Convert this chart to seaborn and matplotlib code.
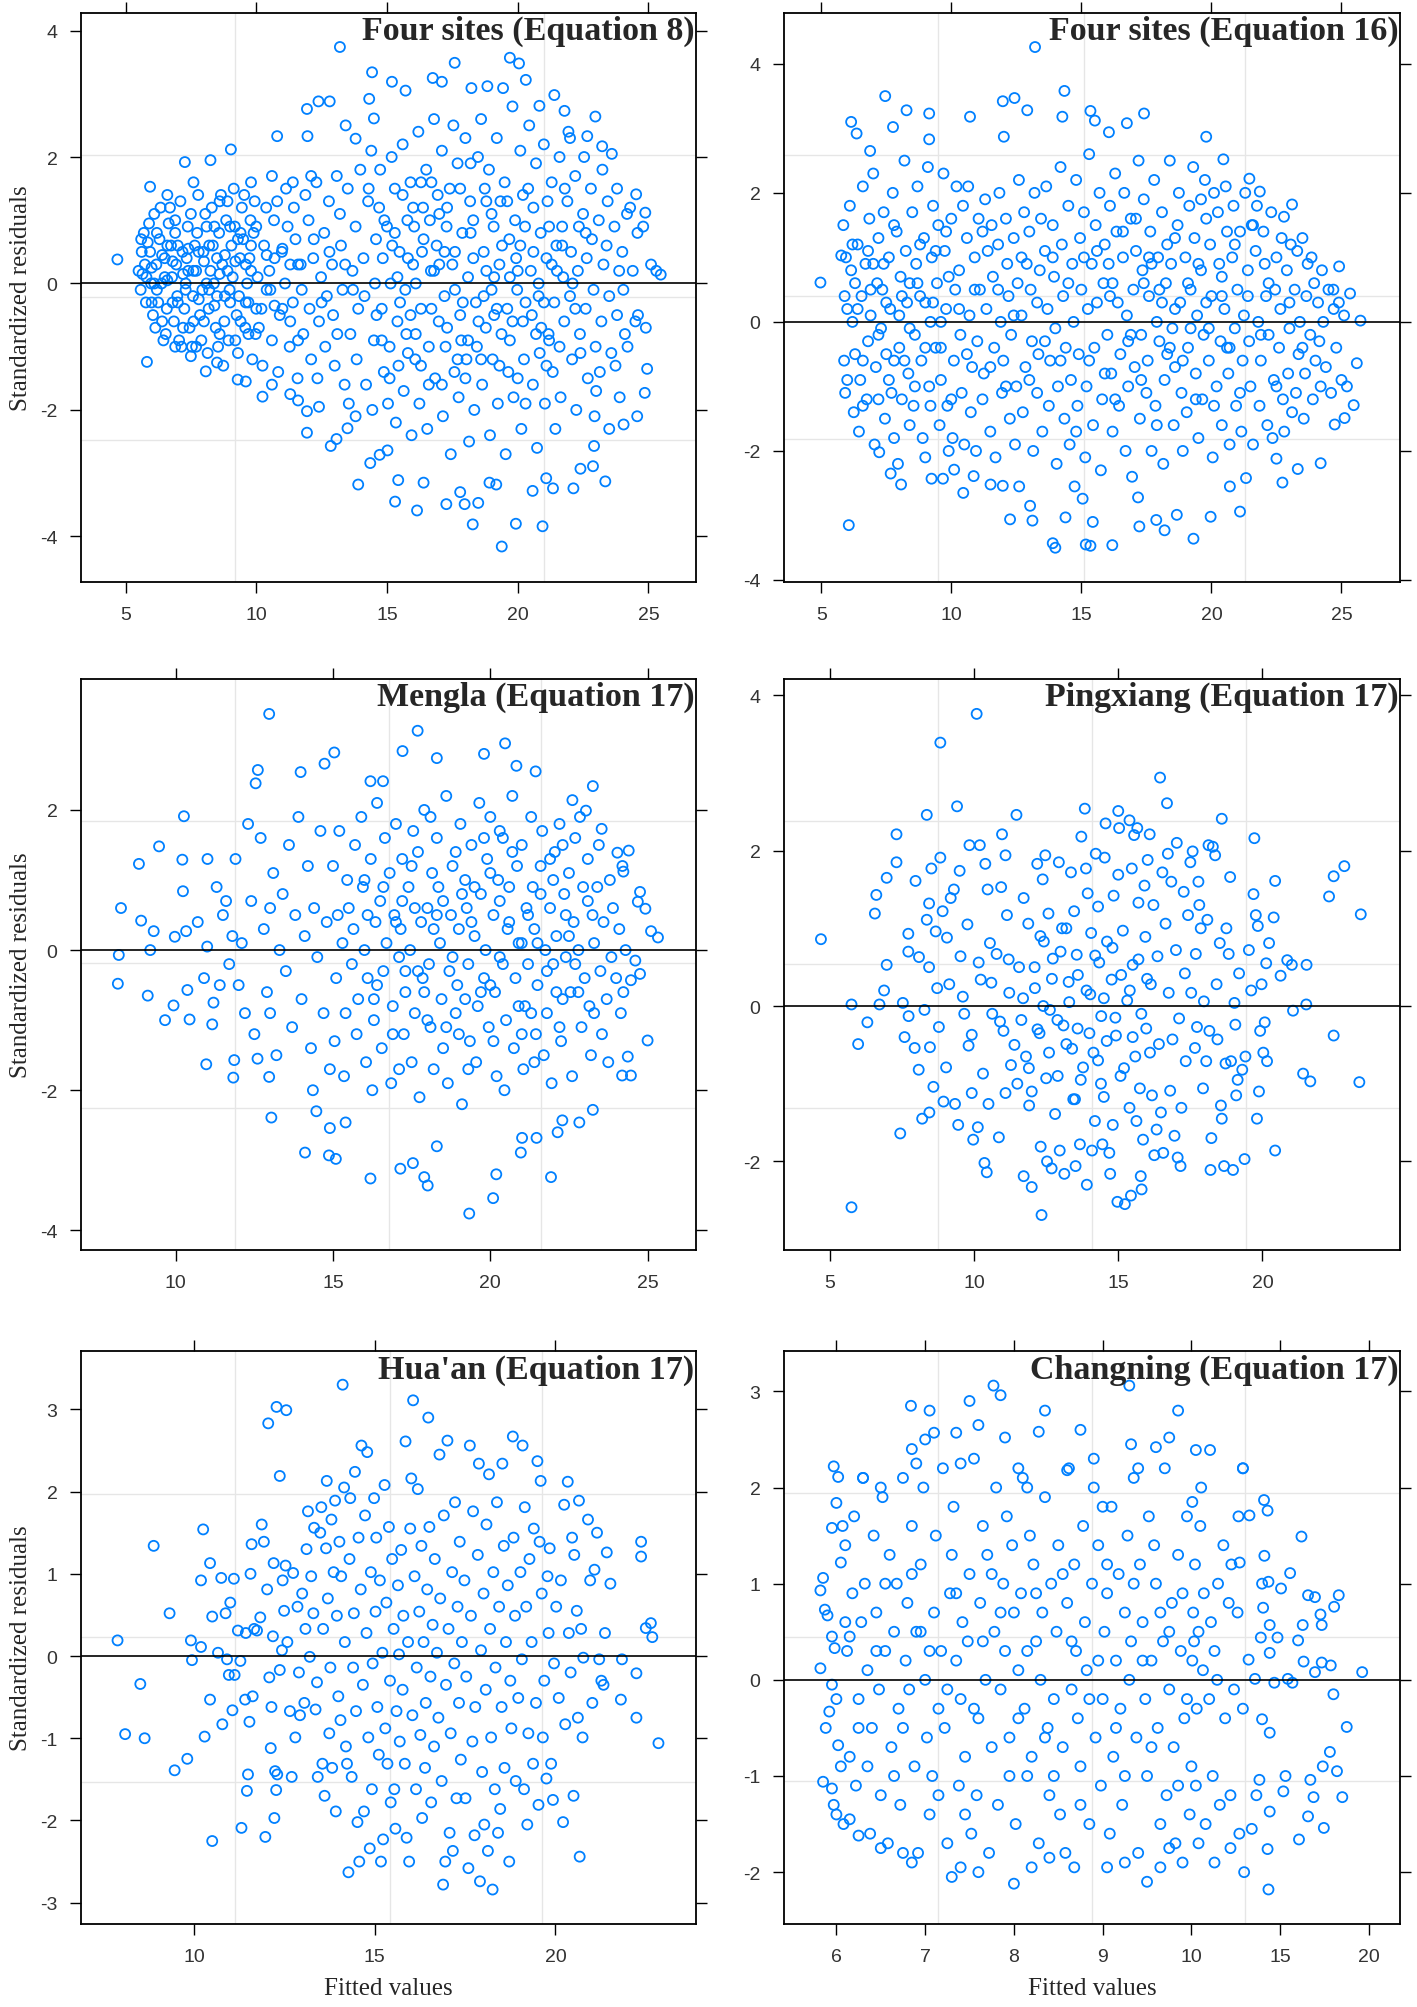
import numpy as np
import pandas as pd
import matplotlib
matplotlib.use("Agg")
import matplotlib.pyplot as plt
import seaborn as sns

sns.set_style("white")
plt.rcParams["font.family"] = ["Liberation Sans", "DejaVu Sans"]
plt.rcParams["axes.unicode_minus"] = False

# ---------------- data: (fitted value, standardized residual) ----------------
four_sites_eq8 = [
    (4.69, 0.38), (25.47, 0.14), (5.82, -1.24), (13.2, 3.74), (19.7, 3.57), (20.05, 3.48), (17.59, 3.49),
    (14.43, 3.34), (19.39, -4.16), (19.93, -3.8), (20.95, -3.84), (18.28, -3.81), (16.15, -3.59), (15.31, -3.45),
    (23.35, -3.13), (13.9, -3.18), (11.94, 2.76), (12.38, 2.88), (12.81, 2.88), (10.8, 2.33), (11.96, 2.33),
    (9.03, 2.12), (7.27, 1.92), (8.25, 1.95), (5.94, 1.53), (21.4, 2.98), (22.97, 2.64), (24.53, 1.41),
    (24.88, 1.12), (24.57, -2.1), (24.05, -2.23), (24.86, -1.73), (24.95, -1.35), (11.94, -2.36), (11.94, -2.02),
    (12.85, -2.57), (13.07, -2.46), (13.49, -2.29), (14.36, -2.84), (14.72, -2.71), (15.02, -2.64), (15.43, -3.11),
    (16.4, -3.15), (17.27, -3.49), (17.8, -3.3), (17.97, -3.49), (18.49, -3.47), (18.92, -3.15), (19.18, -3.18),
    (20.57, -3.28), (21.09, -3.08), (21.35, -3.24), (22.13, -3.24), (22.4, -2.93), (22.88, -2.89), (22.92, -2.57),
    (10.24, -1.79), (9.29, -1.52), (8.07, -1.39), (15.19, 3.19), (15.71, 3.05), (16.75, 3.25), (17.1, 3.19),
    (18.23, 3.09), (18.84, 3.12), (19.44, 3.09), (20.31, 3.22), (20.83, 2.81), (21.79, 2.73), (22.66, 2.33),
    (23.23, 2.17), (14.32, 2.92), (14.5, 2.61), (13.42, 2.5), (13.8, 2.29),
    (6.6, 1.4), (7.6, 1.6), (8.6, 1.3), (9.8, 1.6), (10.6, 1.7), (11.4, 1.6), (12.1, 1.7), (6.9, -1.0),
    (7.5, -1.15), (8.5, -1.25), (9.6, -1.55), (10.6, -1.6), (11.3, -1.75), (11.6, -1.85), (12.4, -1.95),
    (13.8, -2.1), (23.9, -1.8), (23.5, -2.3), (23.0, -1.7), (24.2, -1.0), (24.6, -0.5), (24.8, 0.9),
    (24.3, 1.2), (23.8, 1.5), (23.6, 2.05), (22.0, 2.3), (24.9, -0.7), (25.1, 0.3), (25.3, 0.2),
    (5.5, 0.2), (5.58, -0.1), (5.62, 0.5), (5.7, 0.8), (5.78, -0.3), (5.74, 0.3),
    (5.9, 0.95), (5.98, 0.0), (6.05, -0.5), (5.94, 0.5), (6.1, 1.1), (6.18, 0.3), (6.25, -0.3), (6.14, -0.7),
    (6.3, 0.7), (6.38, 0.0), (6.45, -0.9), (6.34, 1.2), (6.5, 0.4), (6.58, -0.4), (6.65, 0.95), (6.54, -0.8),
    (6.7, 1.2), (6.78, 0.1), (6.85, -0.6), (6.74, 0.6), (6.9, 0.8), (6.98, -0.2), (7.05, -0.9), (6.94, 0.3),
    (7.1, 1.3), (7.18, 0.5), (7.25, -0.4), (7.14, -1.0), (7.3, 0.0), (7.38, 0.9), (7.45, -0.7), (7.34, 0.4),
    (7.5, 1.1), (7.58, -0.2), (7.65, 0.6), (7.54, -1.0), (7.7, 0.2), (7.78, 1.4), (7.85, -0.5), (7.74, 0.8),
    (7.9, -0.9), (7.98, 0.5), (8.05, 1.1), (7.94, -0.1), (8.1, 0.9), (8.18, -0.4), (8.25, 0.2), (8.14, -1.1),
    (8.3, 1.2), (8.38, 0.0), (8.45, -0.7), (8.34, 0.6), (8.5, -0.2), (8.58, 0.8), (8.65, 1.4), (8.54, -1.0),
    (8.7, 0.3), (8.78, -0.6), (8.85, 1.0), (8.74, -1.3), (8.9, 1.3), (8.98, -0.1), (9.05, 0.6), (8.94, -0.9),
    (9.1, 0.1), (9.18, 0.9), (9.25, -0.5), (9.14, 1.5), (9.3, -1.1), (9.38, 0.4), (9.45, 1.2), (9.34, -0.2),
    (9.5, 0.7), (9.58, -0.7), (9.65, 0.0), (9.54, 1.4), (9.7, -0.3), (9.78, 1.0), (9.85, -1.2), (9.74, 0.4),
    (9.9, 0.8), (9.98, -0.8), (10.05, 0.1), (9.94, 1.3), (10.2, -0.4), (10.3, 0.6), (10.38, 1.2), (10.24, -1.3),
    (10.5, 0.2), (10.6, -0.9), (10.68, 1.0), (10.54, -0.1), (10.8, 1.3), (10.9, -0.5), (10.98, 0.5), (10.84, -1.4),
    (11.1, 0.0), (11.2, 0.9), (11.28, -1.0), (11.14, 1.5), (11.4, -0.3), (11.5, 0.7), (11.58, -1.5), (11.44, 1.2),
    (11.7, 0.3), (11.8, -0.8), (11.88, 1.4), (11.74, -0.1), (12.0, 1.0), (12.1, -1.2), (12.18, 0.4), (12.04, -0.4),
    (12.3, 1.6), (12.4, -0.6), (12.48, 0.1), (12.34, -1.5), (12.6, 0.8), (12.7, -0.2), (12.78, 1.3), (12.64, -1.0),
    (12.9, 0.3), (13.0, -1.3), (13.08, 1.7), (12.94, -0.5), (13.2, 1.1), (13.3, -0.1), (13.38, -1.6), (13.24, 0.6),
    (13.5, 1.5), (13.6, -0.8), (13.68, 0.2), (13.54, -1.9), (13.8, 0.9), (13.9, -0.4), (13.98, 1.8), (13.84, -1.2),
    (14.1, 0.4), (14.2, -1.6), (14.28, 1.3), (14.14, -0.2), (14.4, 2.1), (14.5, -0.9), (14.58, 0.7), (14.44, -2.0),
    (14.54, 0.0), (14.7, 1.2), (14.8, -0.4), (14.88, -1.4), (14.74, 1.8), (14.84, 0.4), (15.0, 0.9), (15.1, -1.0),
    (15.18, 2.0), (15.04, -1.9), (15.14, 0.0), (15.3, 1.5), (15.4, -0.6), (15.48, 0.5), (15.34, -2.2), (15.44, -1.3),
    (15.6, 2.2), (15.7, -0.1), (15.78, 1.0), (15.64, -1.7), (15.74, -0.8), (15.9, 1.6), (16.0, 0.3), (16.08, -1.2),
    (15.94, -2.4), (16.04, 0.9), (16.2, 2.4), (16.3, -0.4), (16.38, 1.2), (16.24, -1.9), (16.34, 0.5), (16.5, 1.8),
    (16.6, -1.0), (16.68, 0.2), (16.54, -2.3), (16.64, 1.0), (16.8, 2.6), (16.9, 0.6), (16.98, -0.6), (16.84, -1.5),
    (16.94, 1.4), (17.1, 2.1), (17.2, -0.2), (17.28, 0.9), (17.14, -2.1), (17.24, -1.0), (17.4, 1.5), (17.5, 0.3),
    (17.58, -1.4), (17.44, -2.7), (17.54, 2.5), (17.7, 1.9), (17.8, -0.5), (17.88, 0.8), (17.74, -1.8), (17.84, -0.9),
    (18.0, 2.3), (18.1, 0.1), (18.18, 1.3), (18.04, -1.2), (18.14, -2.5), (18.3, 1.0), (18.4, -0.3), (18.48, 2.0),
    (18.34, -2.0), (18.44, -1.0), (18.6, 2.6), (18.7, 0.5), (18.78, -0.7), (18.64, -1.6), (18.74, 1.5), (18.9, 1.8),
    (19.0, -0.1), (19.08, 0.9), (18.94, -2.4), (19.04, -1.2), (19.2, 2.3), (19.3, 0.3), (19.38, -0.8), (19.24, -1.9),
    (19.34, 1.3), (19.5, 1.6), (19.6, -0.4), (19.68, 0.7), (19.54, -2.7), (19.64, -1.4), (19.8, 2.8), (19.9, 1.0),
    (19.98, -0.1), (19.84, -1.8), (19.94, 0.4), (20.1, 2.1), (20.2, -0.6), (20.28, 0.9), (20.14, -2.3), (20.24, -1.2),
    (20.4, 1.5), (20.5, 0.2), (20.58, -1.6), (20.44, 2.5), (20.54, -0.5), (20.7, 1.9), (20.8, -0.2), (20.88, 0.8),
    (20.74, -2.6), (20.84, -1.1), (21.0, 2.2), (21.1, 0.4), (21.18, -0.8), (21.04, -1.9), (21.14, 1.3), (21.3, 1.6),
    (21.4, -0.3), (21.48, 0.6), (21.34, -1.4), (21.44, -2.3), (21.6, 2.0), (21.7, 0.9), (21.78, -0.6), (21.64, -1.8),
    (21.74, 0.1), (21.9, 1.3), (22.0, -0.2), (22.08, -1.2), (21.94, 2.4), (22.04, 0.5), (22.2, 1.7), (22.3, 0.2),
    (22.38, -0.8), (22.24, -2.0), (22.34, 0.9), (22.5, 1.1), (22.6, -0.4), (22.68, -1.5), (22.54, 2.0), (22.64, 0.4),
    (22.8, 1.5), (22.9, -0.1), (22.98, -1.0), (22.84, 0.7), (22.94, -2.1), (23.1, 1.0), (23.2, -0.6), (23.28, 0.3),
    (23.14, -1.4), (23.24, 1.8), (23.4, 0.6), (23.5, -0.2), (23.58, -1.1), (23.44, 1.3), (23.7, 0.9), (23.8, -0.5),
    (23.88, 0.2), (23.74, -1.3), (24.0, 0.5), (24.1, -0.8), (24.18, 1.1), (24.04, -0.1), (24.4, 0.2), (24.5, -0.6),
    (24.58, 0.8),
    (5.65, 0.15), (5.85, 0.65), (6.0, 0.25), (6.2, -0.1), (6.4, 0.45), (6.6, 0.05), (6.8, 0.35), (7.0, -0.3),
    (7.2, 0.15), (7.4, 0.55), (7.6, 0.2), (7.8, -0.25), (8.0, 0.35), (8.2, 0.6), (8.4, -0.35), (8.6, 0.15),
    (8.8, 0.45), (9.0, -0.3), (9.2, 0.35), (9.4, -0.6), (9.6, 0.3), (9.8, 0.6), (10.0, -0.4), (10.4, 0.45),
    (10.7, -0.35), (11.0, 0.55), (11.3, -0.6), (11.6, 0.3), (15.2, 0.6), (15.5, -0.3), (15.8, 0.4), (16.1, -0.8),
    (16.4, 0.7), (16.7, -0.4), (17.0, 0.3), (17.3, -0.7), (17.6, 0.5), (17.9, -0.3), (18.2, 0.8), (18.5, -0.6),
    (18.8, 0.2), (19.1, -0.5), (19.4, 0.6), (19.7, -0.9), (20.0, 0.2), (20.3, -0.3), (20.6, 0.5), (20.9, -0.7),
    (21.2, 0.9), (21.5, 0.2), (16.0, 1.2), (17.0, 1.1), (18.0, -1.5), (19.0, 1.1), (20.0, -1.5), (21.0, -0.3),
    (5.6, 0.7), (5.8, 0.1), (6.0, -0.3), (6.2, 0.8), (6.4, -0.6), (6.6, 0.6), (6.8, -0.3), (7.0, 0.6),
    (7.2, -0.7), (7.4, 0.2), (7.6, -0.6), (7.8, 0.5), (8.0, -0.6), (8.2, -0.1), (8.4, 0.9), (8.6, -0.8),
    (8.8, -0.2), (9.0, 0.9), (9.2, -0.9), (9.4, 0.8), (9.6, -0.3), (9.8, 0.2), (10.0, 0.9), (6.1, 0.0),
    (6.5, 0.1), (6.9, 1.0), (7.3, -0.1), (7.7, -1.0), (8.1, 0.0), (8.5, 0.4), (8.9, 0.2), (9.3, 0.7),
    (9.7, -0.8), (10.1, -0.7), (10.4, -0.1), (10.7, 0.4), (11.0, -0.4), (11.3, 0.3), (11.6, -0.9), (12.2, 0.7),
    (12.5, -0.3), (12.8, 0.5), (13.1, -0.8), (13.4, 0.3), (13.7, -0.1),
    (14.3, 1.5), (14.6, -0.5), (14.9, 1.0), (15.1, -1.5), (15.4, 0.1), (15.6, 1.4), (15.9, -0.5), (16.1, 0.0),
    (16.3, 1.6), (16.6, -1.6), (16.8, 0.2), (17.1, -1.6), (17.3, 1.2), (17.6, -0.1), (17.8, 1.5), (18.1, -0.9),
    (18.3, 0.4), (18.6, -1.2), (18.8, 1.3), (19.1, 0.1), (19.3, -1.3), (19.6, 1.3), (19.8, -0.6), (20.1, 0.6),
    (20.3, -1.9), (20.6, 1.2), (20.8, 0.0), (21.1, -1.3), (21.3, 0.3), (21.6, -1.0), (21.8, 1.5), (22.1, 0.0),
    (22.4, -1.1), (22.6, 0.8), (14.8, -0.9), (15.3, 0.8), (15.8, -1.1), (16.3, -1.3), (16.7, 1.6), (17.2, 0.5),
    (17.7, -1.2), (18.2, 1.9), (18.7, -0.2), (19.2, -0.4), (19.7, 0.1), (20.2, 1.4), (20.7, -0.8), (21.2, -0.9),
    (21.7, 0.6), (22.2, -0.4),
]

four_sites_eq16 = [
    (4.97, 0.61), (6.06, -3.15), (13.22, 4.26), (7.46, 3.5), (8.28, 3.28), (9.15, 3.23), (6.15, 3.1),
    (7.76, 3.02), (10.72, 3.18), (11.98, 3.42), (12.43, 3.47), (12.92, 3.28), (14.35, 3.58), (14.27, 3.18),
    (15.35, 3.27), (15.52, 3.12), (16.75, 3.08), (17.41, 3.23), (12.02, 2.87), (9.15, 2.83), (6.36, 2.92),
    (6.88, 2.65), (16.06, 2.94), (19.8, 2.87), (20.46, 2.52), (23.1, 1.82), (22.79, 1.63), (21.86, 2.02),
    (21.46, 2.22), (24.91, 0.86), (24.69, 0.5), (25.33, 0.44), (25.73, 0.02), (25.59, -0.64), (25.21, -1.0),
    (25.47, -1.29), (25.12, -1.49), (24.74, -1.59), (24.2, -2.19), (23.32, -2.28), (22.73, -2.49), (22.5, -2.12),
    (21.33, -2.42), (21.1, -2.94), (20.71, -2.55), (19.97, -3.02), (19.31, -3.36), (18.67, -2.99), (18.2, -3.23),
    (17.88, -3.07), (17.23, -3.17), (17.18, -2.72), (16.19, -3.46), (15.35, -3.47), (15.17, -3.45), (15.44, -3.1),
    (15.05, -2.74), (14.74, -2.55), (14.39, -3.03), (14.0, -3.5), (13.9, -3.43), (13.12, -3.08), (13.03, -2.85),
    (12.26, -3.06), (12.61, -2.55), (11.98, -2.54), (11.51, -2.52), (10.46, -2.65), (9.68, -2.43), (9.24, -2.43),
    (8.07, -2.52), (7.67, -2.35), (7.23, -2.02), (10.11, -2.29), (10.86, -2.39), (5.77, 1.03),
    (5.85, 1.5), (5.9, 0.4), (5.88, -0.6), (5.95, 1.0), (5.92, -1.1),
    (6.1, 1.8), (6.2, 0.0), (6.25, -1.4), (6.15, 0.8), (6.3, -0.5),
    (6.4, 1.2), (6.5, -0.9), (6.55, 0.4), (6.45, -1.7), (6.6, 2.1),
    (6.7, 0.9), (6.8, -0.3), (6.85, 1.6), (6.75, -1.2), (6.9, 0.1),
    (7.0, 2.3), (7.1, -0.7), (7.15, 0.6), (7.05, -1.9), (7.2, 1.3),
    (7.3, -0.1), (7.4, 1.7), (7.45, -1.5), (7.35, 0.5), (7.5, -0.5),
    (7.6, 1.0), (7.7, -1.1), (7.75, 2.0), (7.65, 0.2), (7.8, -1.8),
    (7.9, 1.4), (8.0, -0.4), (8.05, 0.7), (7.95, -2.2), (8.1, -1.2),
    (8.2, 2.5), (8.3, 0.3), (8.35, -0.8), (8.25, 1.1), (8.4, -1.6),
    (8.5, 1.7), (8.6, -0.2), (8.65, 0.9), (8.55, -1.3), (8.7, 2.1),
    (8.8, 0.4), (8.9, -1.8), (8.95, 1.3), (8.85, -0.6), (9.0, -2.1),
    (9.1, 2.4), (9.2, 0.0), (9.25, 1.0), (9.15, -1.0), (9.3, 1.8),
    (9.4, -0.4), (9.5, 1.5), (9.55, -1.6), (9.45, 0.6), (9.6, -0.9),
    (9.7, 2.3), (9.8, 0.2), (9.85, -1.3), (9.75, 1.1), (9.9, -2.0),
    (10.0, 1.6), (10.1, -0.6), (10.15, 0.5), (10.05, -1.8), (10.2, 2.1),
    (10.3, 0.8), (10.4, -1.1), (10.45, 1.8), (10.35, -0.2), (10.5, -1.9),
    (10.6, 1.3), (10.7, 0.1), (10.75, -1.4), (10.65, 2.1), (10.8, -0.7),
    (10.9, 1.0), (11.0, -0.3), (11.05, 1.6), (10.95, -2.0), (11.1, 0.5),
    (11.2, -1.2), (11.3, 1.9), (11.35, 0.2), (11.25, -0.8), (11.4, 1.1),
    (11.5, -1.7), (11.6, 0.7), (11.65, -0.4), (11.55, 1.5), (11.7, -2.1),
    (11.8, 1.2), (11.9, 0.0), (11.95, -1.1), (11.85, 2.0), (12.0, -0.6),
    (12.1, 1.6), (12.2, 0.4), (12.25, -1.5), (12.15, 0.9), (12.3, -0.2),
    (12.4, 1.3), (12.5, -1.0), (12.55, 0.6), (12.45, -1.9), (12.6, 2.2),
    (12.7, 0.1), (12.8, 1.7), (12.85, -0.7), (12.75, -1.4), (12.9, 0.9),
    (13.0, 1.4), (13.1, -0.3), (13.15, -2.0), (13.05, 0.5), (13.2, 2.0),
    (13.3, -1.1), (13.4, 0.8), (13.45, 1.6), (13.35, -0.5), (13.5, -1.7),
    (13.6, 1.1), (13.7, 0.2), (13.75, -1.3), (13.65, 2.1), (13.8, -0.6),
    (13.9, 1.5), (14.0, -0.1), (14.05, -2.2), (13.95, 0.7), (14.1, -1.0),
    (14.2, 2.4), (14.3, 0.4), (14.35, -1.5), (14.25, 1.2), (14.4, -0.4),
    (14.5, 1.8), (14.6, -0.9), (14.65, 0.9), (14.55, -1.9), (14.7, 0.0),
    (14.8, 2.2), (14.9, -0.5), (14.95, 1.3), (14.85, -1.3), (15.0, 0.5),
    (15.1, 1.7), (15.2, -1.0), (15.25, 0.2), (15.15, -2.1), (15.3, 2.6),
    (15.4, 0.9), (15.5, -0.4), (15.55, 1.5), (15.45, -1.6), (15.6, 0.3),
    (15.7, 2.0), (15.8, -1.2), (15.85, 0.6), (15.75, -2.3), (15.9, 1.2),
    (16.0, -0.2), (16.1, 1.8), (16.15, -0.8), (16.05, 0.9), (16.2, -1.7),
    (16.3, 2.3), (16.4, 0.3), (16.45, -1.3), (16.35, 1.4), (16.5, -0.5),
    (16.6, 1.0), (16.7, -2.0), (16.75, 0.1), (16.65, 2.0), (16.8, -1.0),
    (16.9, 1.6), (17.0, 0.5), (17.05, -0.7), (16.95, -2.4), (17.1, 1.1),
    (17.2, 2.5), (17.3, -0.2), (17.35, 0.8), (17.25, -1.5), (17.4, 1.9),
    (17.5, -1.1), (17.6, 0.4), (17.65, 1.4), (17.55, -0.6), (17.7, -2.0),
    (17.8, 2.2), (17.9, 0.0), (17.95, 1.0), (17.85, -1.3), (18.0, -0.3),
    (18.1, 1.7), (18.2, -0.9), (18.25, 0.6), (18.15, -2.2), (18.3, 1.2),
    (18.4, 2.5), (18.5, -0.1), (18.55, -1.6), (18.45, 0.9), (18.6, -0.7),
    (18.7, 1.5), (18.8, 0.3), (18.85, -1.1), (18.75, 2.0), (18.9, -2.0),
    (19.0, 1.0), (19.1, -0.4), (19.15, 1.8), (19.05, -1.4), (19.2, 0.5),
    (19.3, 2.4), (19.4, -0.8), (19.45, 0.1), (19.35, 1.3), (19.5, -1.8),
    (19.6, 0.8), (19.7, -0.2), (19.75, 2.2), (19.65, -1.2), (19.8, 1.6),
    (19.9, -0.6), (20.0, 0.4), (20.05, -2.1), (19.95, 1.2), (20.1, 2.0),
    (20.2, -1.0), (20.3, 0.9), (20.35, -0.3), (20.25, 1.7), (20.4, -1.6),
    (20.5, 0.2), (20.6, 1.4), (20.65, -0.8), (20.55, 2.1), (20.7, -1.9),
    (20.8, 1.0), (20.9, -0.1), (20.95, -1.3), (20.85, 1.8), (21.0, 0.5),
    (21.1, 1.4), (21.2, -0.6), (21.25, 0.1), (21.15, -1.7), (21.3, 2.0),
    (21.4, 0.8), (21.5, -1.0), (21.55, 1.5), (21.45, -0.3), (21.6, -1.9),
    (21.7, 1.1), (21.8, 0.0), (21.85, -1.3), (21.75, 1.8), (21.9, -0.6),
    (22.0, 1.4), (22.1, 0.4), (22.15, -1.6), (22.05, 0.9), (22.2, -0.2),
    (22.3, 1.7), (22.4, -0.9), (22.45, 0.5), (22.35, -1.8), (22.5, 1.0),
    (22.6, -0.4), (22.7, 1.3), (22.75, -1.2), (22.65, 0.2), (22.8, -1.7),
    (22.9, 0.8), (23.0, -0.1), (23.05, 1.2), (22.95, -0.8), (23.1, -1.4),
    (23.2, 0.5), (23.3, 1.1), (23.35, -0.5), (23.25, -1.1), (23.4, 0.0),
    (23.5, 1.3), (23.6, -0.8), (23.65, 0.4), (23.55, -1.5), (23.7, 0.9),
    (23.8, -0.2), (23.9, -1.2), (23.95, 0.6), (23.85, 1.0), (24.0, -0.6),
    (24.1, 0.3), (24.2, -1.0), (24.25, 0.8), (24.15, -0.3), (24.3, 0.0),
    (24.4, -0.7), (24.5, 0.5), (24.6, -1.1), (24.7, 0.2), (24.8, -0.4),
    (24.9, 0.3), (25.0, -0.9), (25.1, 0.1),
    (6.0, 0.2), (6.3, 0.6), (6.6, -0.6), (6.9, 0.5), (7.2, -0.2), (7.5, 0.3), (7.8, -0.6), (8.1, 0.4),
    (8.4, -0.1), (8.7, 0.6), (9.0, -0.4), (9.3, 0.3), (9.6, 0.0), (9.9, 0.7), (16.2, 0.6), (16.8, -0.3),
    (17.4, 0.6), (18.0, 0.5), (18.6, 0.2), (19.2, -0.1), (19.8, 0.3), (20.4, 0.7), (20.7, -0.4), (17.7, 0.9),
    (18.3, -0.5), (19.5, 0.9),
    (6.0, -0.9), (6.2, 1.2), (6.4, 0.2), (6.6, -1.3), (6.8, 1.1), (7.0, 0.9), (7.2, -1.2), (7.4, 0.9),
    (7.6, -0.9), (7.8, 1.5), (8.0, 0.1), (8.2, -0.6), (8.4, 0.6), (8.6, -1.0), (8.8, 1.2), (9.0, 0.3),
    (9.2, -1.3), (9.4, 1.1), (9.6, -0.4), (9.8, 1.4), (10.0, -1.2), (10.3, 0.2), (10.6, -0.5), (10.9, 0.5),
    (11.2, 1.4), (11.5, -0.7), (11.8, 0.5), (12.1, -1.0), (12.4, 0.1), (12.7, 1.0), (13.0, -0.9), (13.3, 0.3),
    (13.6, -0.3), (13.9, 1.0), (14.2, -0.6), (14.5, 0.6), (14.8, -1.7), (15.1, 1.0), (15.3, -0.6), (15.6, 1.1),
    (15.9, -0.8), (16.1, 0.4), (16.3, -1.2), (16.6, 1.4), (16.9, -0.2), (17.1, 1.6), (17.3, -0.9), (17.6, 1.0),
    (17.9, -1.6), (18.1, 0.3), (18.4, -0.4), (18.6, 1.3), (18.9, -0.6), (19.1, 0.6), (19.4, -1.2), (19.6, 1.9),
    (19.9, -0.1), (20.1, -1.3), (20.4, 0.4), (20.6, -0.4), (20.9, 1.2), (21.1, -1.1), (21.4, 0.4), (21.6, 1.5),
    (21.9, -0.2), (22.2, 0.6), (22.5, -1.0), (23.0, 0.3), (23.5, -0.4),
]

mengla_eq17 = [
    (12.97, 3.37), (17.69, 3.13), (20.47, 2.95), (19.8, 2.8), (17.21, 2.84), (15.04, 2.82), (18.3, 2.74),
    (20.83, 2.63), (21.44, 2.55), (14.73, 2.66), (12.61, 2.57), (12.54, 2.38), (13.97, 2.54), (23.26, 2.34),
    (16.19, 2.41), (16.59, 2.41), (10.26, 1.91), (9.47, 1.48), (8.83, 1.23), (8.26, 0.6), (8.9, 0.42),
    (9.3, 0.27), (8.19, -0.07), (9.19, 0.0), (8.16, -0.48), (9.11, -0.65), (9.66, -1.0), (9.93, -0.79),
    (9.97, 0.19), (10.21, 1.29), (10.23, 0.84), (10.33, 0.27), (10.37, -0.57), (10.44, -0.99), (10.97, -1.63),
    (11.01, 1.3), (11.16, -1.06), (11.83, -1.82), (11.86, -1.57), (12.97, -1.81), (13.04, -2.39), (14.36, -2.0),
    (14.11, -2.89), (14.87, -2.93), (15.09, -2.98), (14.47, -2.3), (14.9, -2.54), (15.4, -2.46), (16.19, -3.26),
    (17.14, -3.12), (17.54, -3.04), (17.9, -3.24), (18.01, -3.36), (18.3, -2.8), (19.33, -3.76), (20.09, -3.54),
    (20.19, -3.2), (20.97, -2.89), (21.93, -3.24), (21.01, -2.68), (21.47, -2.68), (22.14, -2.6), (22.29, -2.43),
    (22.83, -2.46), (23.26, -2.28), (24.19, -1.79), (24.47, -1.79), (25.0, -1.29), (24.37, -1.52), (25.33, 0.18),
    (25.11, 0.27), (24.93, 0.59), (24.76, 0.83), (24.69, 0.69), (24.4, 1.42), (24.04, 1.39), (24.61, -0.15),
    (24.76, -0.34), (24.47, -0.43), (24.23, -0.6), (24.23, 1.12), (23.54, 1.73), (23.04, 1.99), (22.61, 2.14),
    (11.3, 0.9), (11.5, 0.5), (11.7, -0.2), (11.9, 1.3), (12.1, 0.1), (12.2, -0.9), (12.4, 0.7), (12.5, -1.2),
    (12.7, 1.6), (12.8, 0.3), (12.9, -0.6), (13.1, 1.1), (13.2, -1.5), (13.3, 0.0), (13.4, 0.8), (13.5, -0.3),
    (13.6, 1.5), (13.7, -1.1), (13.8, 0.5), (13.9, 1.9), (14.0, -0.7), (14.1, 0.2), (14.2, 1.2), (14.3, -1.4),
    (14.4, 0.6), (14.5, -0.1), (14.6, 1.7), (14.7, -0.9), (14.8, 0.4), (14.9, -1.7), (10.7, 0.4), (10.9, -0.4),
    (11.0, 0.05), (11.4, -0.5), (11.6, 0.7), (12.0, -0.5), (11.2, -0.75), (12.3, 1.8), (12.6, -1.55), (13.0, -0.9),
    (13.0, 0.6), (11.8, 0.2),
    (15.0, 1.2), (15.1, -0.4), (15.15, 0.5), (15.05, -1.3), (15.2, 1.7),
    (15.3, 0.1), (15.4, -0.9), (15.45, 1.0), (15.35, -1.8), (15.5, 0.6),
    (15.6, -0.2), (15.7, 1.5), (15.75, -1.2), (15.65, 0.3), (15.8, -0.7),
    (15.9, 1.9), (16.0, 0.0), (16.05, -1.6), (15.95, 0.9), (16.1, -0.4),
    (16.2, 1.3), (16.3, -1.0), (16.35, 0.4), (16.25, -2.0), (16.4, 2.1),
    (16.5, 0.7), (16.6, -0.3), (16.65, 1.6), (16.55, -1.4), (16.7, 0.1),
    (16.8, 1.1), (16.9, -0.8), (16.95, 0.5), (16.85, -1.9), (17.0, 1.8),
    (17.1, -0.1), (17.2, 1.3), (17.25, -1.2), (17.15, 0.3), (17.3, -0.6),
    (17.4, 0.9), (17.5, -1.6), (17.55, 1.7), (17.45, 0.0), (17.6, -0.9),
    (17.7, 1.4), (17.8, 0.4), (17.85, -0.4), (17.75, -2.1), (17.9, 2.0),
    (18.0, 0.6), (18.1, -1.1), (18.15, 1.1), (18.05, -0.2), (18.2, -1.7),
    (18.3, 1.6), (18.4, 0.1), (18.45, -0.7), (18.35, 0.9), (18.5, -1.4),
    (18.6, 2.2), (18.7, -0.3), (18.75, 0.5), (18.65, -1.9), (18.8, 1.2),
    (18.9, -0.9), (19.0, 0.3), (19.05, 1.8), (18.95, -0.5), (19.1, -2.2),
    (19.2, 1.0), (19.3, -0.2), (19.35, -1.3), (19.25, 0.6), (19.4, 1.5),
    (19.5, 0.2), (19.6, -0.8), (19.65, 2.1), (19.55, -1.6), (19.7, 0.8),
    (19.8, -0.4), (19.9, 1.3), (19.95, -1.1), (19.85, 0.0), (20.0, 1.9),
    (20.1, 0.5), (20.2, -1.8), (20.25, 1.0), (20.15, -0.6), (20.3, -0.1),
    (20.4, 1.6), (20.5, -1.0), (20.55, 0.3), (20.45, -2.0), (20.6, 0.9),
    (20.7, 2.2), (20.8, -0.4), (20.85, 1.2), (20.75, -1.4), (20.9, 0.1),
    (21.0, 1.5), (21.1, -0.8), (21.15, 0.6), (21.05, -1.7), (21.2, -0.2),
    (21.3, 1.9), (21.4, 0.3), (21.45, -1.2), (21.35, 0.9), (21.5, -0.5),
    (21.6, 1.2), (21.7, -1.5), (21.75, 0.0), (21.65, 1.7), (21.8, -0.9),
    (21.9, 0.6), (22.0, -0.2), (22.05, 1.4), (21.95, -1.9), (22.1, 0.2),
    (22.2, 1.8), (22.3, -0.7), (22.35, 0.8), (22.25, -1.3), (22.4, -0.1),
    (22.5, 1.1), (22.6, -1.8), (22.65, 0.4), (22.55, -0.6), (22.7, 1.6),
    (22.8, 0.0), (22.9, -1.1), (22.95, 0.9), (22.85, 1.9), (23.0, -0.4),
    (23.1, 1.3), (23.2, -1.5), (23.25, 0.5), (23.15, -0.8), (23.3, 0.1),
    (23.4, 0.9), (23.5, -0.3), (23.55, -1.2), (23.45, 1.5), (23.6, 0.4),
    (23.7, -0.7), (23.8, 1.0), (23.85, -0.1), (23.75, -1.6), (23.9, 0.6),
    (24.0, -0.4), (24.1, 0.3), (24.2, 1.2), (24.15, -0.9), (24.3, 0.0),
    (17.0, 0.4), (17.6, 0.6), (18.2, 0.3), (18.8, -0.1), (19.4, 0.4), (20.0, -0.5), (20.6, 0.4), (21.2, 0.5),
    (21.8, -0.3), (22.4, 0.5), (17.3, -0.3), (17.9, -0.6), (18.5, 0.7), (19.1, 0.8), (19.7, -0.6), (20.3, 0.7),
    (20.9, -0.8), (21.5, 0.1), (22.1, -0.6), (22.7, -0.2), (16.4, -0.5), (16.1, 0.5), (19.0, -1.2), (20.0, 1.1),
    (21.0, -1.2), (22.0, 1.0),
    (16.0, 1.0), (16.3, -0.7), (16.6, 0.9), (16.9, -1.2), (17.2, 0.7), (17.5, 1.2), (17.7, -0.3), (18.0, -1.0),
    (18.3, 0.5), (18.6, -1.1), (18.9, 1.4), (19.2, -0.7), (19.5, 0.9), (19.8, 1.6), (20.1, -1.3), (20.4, -0.2),
    (20.7, 1.4), (21.0, 0.1), (21.3, -0.9), (21.6, 0.8), (21.9, 1.3), (22.2, -1.1), (22.5, 0.2), (22.8, -0.6),
    (23.1, 0.7), (17.1, -1.7), (18.1, 1.9), (19.3, -1.7), (20.3, 1.7), (21.4, -1.6), (22.3, 1.5), (23.3, -0.9),
]

pingxiang_eq17 = [
    (4.69, 0.86), (5.75, 0.02), (5.75, -2.59), (5.98, -0.49), (6.3, -0.21), (6.56, 1.19), (6.61, 1.43),
    (6.72, 0.02), (6.88, 0.2), (6.97, 0.53), (6.97, 1.65), (7.31, 1.85), (7.31, 2.21), (7.44, -1.64),
    (7.53, 0.04), (7.59, -0.4), (7.72, 0.93), (7.72, 0.7), (7.73, -0.13), (7.97, 1.61), (7.94, -0.54),
    (8.09, 0.63), (8.08, -0.82), (8.2, -1.45), (8.28, -0.05), (8.36, 2.46), (8.36, 1.11), (8.44, 1.32),
    (8.44, 0.5), (8.45, -1.37), (8.47, -0.53), (8.52, 1.77), (8.59, -1.04), (8.67, 0.96), (8.72, 0.23),
    (8.78, -0.27), (8.83, 1.91), (8.83, 3.39), (8.91, 1.22), (8.94, -1.23), (9.03, -0.79), (9.06, 0.88),
    (9.14, 0.28), (9.19, 1.39), (9.3, 1.5), (9.34, -1.26), (9.41, 2.57), (9.45, -1.53), (9.5, 1.74),
    (9.53, 0.64), (9.61, 0.12), (9.66, -0.1), (9.77, 1.05), (9.81, -0.51), (9.84, 2.07), (9.92, -0.37),
    (9.92, -1.12), (9.97, -1.72), (10.09, 3.76), (10.13, -1.56), (10.16, 0.56), (10.2, 2.07), (10.23, 0.34),
    (10.31, -0.87), (10.36, -2.02), (10.39, 1.83), (10.44, -2.14), (10.47, 1.5), (10.5, -1.26), (10.55, 0.81),
    (10.63, -0.1), (10.78, 0.67), (10.86, -1.69), (10.94, 1.53), (10.97, 2.21), (11.02, -0.32), (11.09, -1.12),
    (11.09, 1.94), (11.14, 1.17), (11.22, 0.17), (11.28, -0.76), (11.47, 2.46), (11.56, 0.5), (11.64, -0.18),
    (11.72, 1.39), (11.72, -2.19), (11.8, -0.65), (11.88, 1.06), (11.91, -1.28), (12.0, -2.33), (12.11, 0.23),
    (12.19, 1.83), (12.27, -0.35), (12.31, -1.81), (12.34, -2.69), (12.38, 1.63), (12.42, 0.83), (12.47, 1.94),
    (12.5, -0.93), (12.53, -2.0), (12.58, 1.19), (12.63, -0.05), (12.69, -2.09), (12.73, 0.61), (12.81, -1.39),
    (12.89, -0.18), (12.94, 1.85), (12.97, -1.86), (13.05, 1.0), (13.13, -2.16), (13.2, -0.49), (13.28, 0.31),
    (13.36, 1.72), (13.44, -1.2), (13.47, 1.22), (13.52, -2.06), (13.56, 0.66), (13.59, -0.29), (13.67, -1.78),
    (13.72, 2.18), (13.78, -0.79), (13.84, 2.54), (13.88, 1.77), (13.91, -2.3), (13.94, 1.45), (14.03, 0.15),
    (14.06, 0.94), (14.09, -1.86), (14.14, -0.6), (14.19, -1.48), (14.22, 1.96), (14.3, 1.28), (14.34, 0.56),
    (14.41, -0.13), (14.45, -1.78), (14.5, -1.17), (14.53, 1.91), (14.56, 2.35), (14.61, 0.83), (14.69, -1.89),
    (14.72, -2.16), (14.77, 0.34), (14.81, -1.53), (14.84, 1.42), (14.92, -0.38), (14.97, -2.52), (15.0, 2.51),
    (15.0, 1.69), (15.03, 2.29), (15.08, -0.9), (15.16, 0.97), (15.23, -2.55), (15.31, 0.07), (15.39, 2.39),
    (15.39, -1.31), (15.44, -2.44), (15.47, 1.77), (15.5, 0.53), (15.55, 2.2), (15.59, -0.65), (15.63, -1.48),
    (15.66, 2.29), (15.7, 1.33), (15.75, -1.06), (15.78, -2.19), (15.81, -2.36), (15.86, -1.72), (15.91, 1.55),
    (15.94, 0.89), (15.97, -0.29), (16.02, 1.88), (16.09, 2.21), (16.13, 0.28), (16.17, -1.15), (16.22, 1.3),
    (16.25, -1.92), (16.33, -1.59), (16.36, 0.64), (16.41, -0.49), (16.45, 2.94), (16.48, -1.37), (16.53, 1.72),
    (16.56, -1.89), (16.64, 1.06), (16.69, 2.61), (16.72, 1.96), (16.75, 0.17), (16.8, -1.09), (16.84, 1.6),
    (16.88, -0.43), (16.95, -1.67), (17.0, 0.72), (17.03, 2.1), (17.06, -1.95), (17.11, -0.16), (17.16, -2.06),
    (17.19, -1.31), (17.27, 1.47), (17.31, 0.42), (17.34, -0.71), (17.42, 1.17), (17.5, 1.85), (17.53, 0.17),
    (17.58, 1.99), (17.66, -0.54), (17.69, 0.67), (17.73, -0.27), (17.78, 1.6), (17.81, 1.3), (17.86, 1.0),
    (17.94, -1.06), (17.97, 0.06), (18.05, -0.71), (18.09, 1.11), (18.13, 2.07), (18.16, -0.32), (18.2, -2.11),
    (18.23, -1.7), (18.28, 2.05), (18.36, 1.94), (18.41, 0.28), (18.44, -0.43), (18.52, 0.81), (18.56, -1.28),
    (18.59, 2.41), (18.59, -1.45), (18.67, -2.06), (18.72, -0.74), (18.75, 1.0), (18.83, 0.67), (18.88, 1.66),
    (18.91, -0.71), (18.98, -2.11), (19.03, 0.04), (19.06, -0.24), (19.09, -1.15), (19.14, -0.95), (19.19, 0.42),
    (19.3, -0.82), (19.38, -1.97), (19.41, -0.65), (19.53, 0.72), (19.61, 0.2), (19.69, 1.44), (19.72, 2.16),
    (19.77, 1.17), (19.81, -1.45), (19.84, 1.03), (19.88, -1.1), (19.92, -0.32), (19.97, 0.28), (20.03, -0.6),
    (20.08, -0.21), (20.13, 0.55), (20.16, -0.71), (20.23, 0.81), (20.39, 1.14), (20.44, 1.61), (20.44, -1.86),
    (20.63, 0.39), (20.86, 0.59), (21.02, 0.53), (21.06, -0.06), (21.41, -0.87), (21.52, 0.02), (21.53, 0.53),
    (21.66, -0.97), (22.31, 1.41), (22.47, 1.67), (22.47, -0.38), (22.84, 1.8), (23.41, 1.18), (23.36, -0.98),
    (10.6, 0.3), (10.9, -0.2), (11.2, 0.6), (11.4, -0.5), (11.7, 0.1), (11.9, -0.8), (12.1, 0.5), (12.2, -0.3),
    (12.4, 0.0), (12.6, -0.6), (12.7, 0.35), (12.9, -0.9), (13.0, 0.7), (13.1, -0.25), (13.3, 0.05), (13.4, -0.55),
    (13.6, 0.4), (13.7, -0.95), (13.9, 0.2), (14.0, -0.35), (14.2, 0.65), (14.3, -0.7), (14.5, 0.1), (14.6, -0.45),
    (14.8, 0.75), (14.9, -0.15), (15.1, 0.4), (15.2, -0.8), (15.4, 0.2), (15.5, -0.4), (15.7, 0.6), (15.8, -0.1),
    (16.0, 0.35), (16.1, -0.6), (12.3, 0.9), (13.2, 1.0), (12.0, -1.1), (13.5, -1.2), (14.4, -1.0), (11.5, -1.0),
]

huaan_eq17 = [
    (7.88, 0.19), (8.09, -0.95), (8.51, -0.34), (8.63, -1.0), (8.88, 1.34), (9.32, 0.52), (9.46, -1.39),
    (9.81, -1.25), (9.91, 0.19), (9.94, -0.05), (10.19, 0.92), (10.19, 0.11), (10.25, 1.54), (10.29, -0.98),
    (10.44, 1.13), (10.44, -0.53), (10.5, 0.48), (10.5, -2.25), (10.66, 0.04), (10.75, 0.95), (10.78, -0.83),
    (10.87, 0.52), (10.91, -0.04), (10.96, -0.23), (11.0, 0.65), (11.06, -0.66), (11.1, 0.94), (11.12, -0.23),
    (11.21, 0.31), (11.28, -0.06), (11.31, -2.09), (11.41, -0.53), (11.43, 0.28), (11.46, -1.64), (11.49, -1.44),
    (11.53, -0.8), (11.56, 1.0), (11.59, 1.36), (11.62, -0.49), (11.66, 0.33), (11.74, 0.31), (11.83, 0.47),
    (11.87, 1.6), (11.93, 1.39), (11.97, -2.2), (12.02, 0.81), (12.05, 2.83), (12.08, -0.26), (12.12, -1.12),
    (12.14, -0.62), (12.18, 0.24), (12.2, 1.13), (12.22, -1.97), (12.24, -1.4), (12.27, -1.63), (12.28, 3.03),
    (12.3, -1.44), (12.37, 2.19), (12.37, -0.17), (12.43, 0.07), (12.45, 0.92), (12.49, 0.55), (12.53, 1.1),
    (12.55, 2.99), (12.58, 0.17), (12.65, -0.67), (12.7, -1.47), (12.74, 1.01), (12.8, -0.99), (12.86, 0.6),
    (12.9, -0.2), (12.93, -0.72), (12.99, 0.76), (13.05, -0.57), (13.08, 0.33), (13.11, 1.3), (13.15, 1.76),
    (13.2, -0.01), (13.24, 0.97), (13.3, 0.52), (13.32, 1.56), (13.36, -0.65), (13.4, -0.32), (13.42, -1.47),
    (13.49, 1.5), (13.52, 1.81), (13.55, -1.31), (13.57, 0.33), (13.61, -1.7), (13.65, 1.31), (13.67, 2.13),
    (13.7, 0.7), (13.74, -0.94), (13.77, -0.14), (13.8, 1.66), (13.82, -1.36), (13.86, 1.02), (13.9, 1.89),
    (13.92, -1.89), (13.95, 0.49), (13.99, -0.49), (14.02, 1.39), (14.05, -0.78), (14.07, 0.97), (14.11, 3.3),
    (14.15, 2.05), (14.17, 0.17), (14.2, -1.1), (14.23, -1.31), (14.27, -2.63), (14.3, 1.18), (14.32, 1.92),
    (14.36, -1.47), (14.4, -0.14), (14.42, 0.52), (14.45, 2.24), (14.48, -0.67), (14.52, -2.02), (14.55, 1.44),
    (14.57, -2.5), (14.61, 0.81), (14.63, 2.56), (14.67, -0.35), (14.7, -1.89), (14.73, 1.71), (14.77, 0.28),
    (14.79, 2.48), (14.82, -0.99), (14.86, -2.34), (14.89, 1.02), (14.92, -1.62), (14.94, -0.09), (14.98, 1.92),
    (15.02, 0.54), (15.04, 1.44), (15.07, -0.62), (15.11, -1.2), (15.14, 0.92), (15.17, -2.5), (15.21, 0.04),
    (15.23, -2.23), (15.27, 2.08), (15.29, -0.88), (15.32, 0.65), (15.35, -1.31), (15.39, 1.57), (15.42, -0.3),
    (15.44, -1.78), (15.48, 1.18), (15.52, 0.33), (15.54, -1.62), (15.57, -2.1), (15.6, -0.67), (15.64, 0.86),
    (15.67, 0.02), (15.69, -1.04), (15.73, 1.29), (15.77, -0.41), (15.79, 0.49), (15.83, -1.31), (15.85, 2.61),
    (15.88, -2.21), (15.92, 0.17), (15.95, -2.5), (15.98, 1.55), (16.01, 2.16), (16.04, -0.72), (16.06, 3.11),
    (16.1, 0.97), (16.14, -1.62), (16.16, -0.14), (16.19, 2.03), (16.23, 0.54), (16.26, -0.96), (16.29, 1.34),
    (16.31, -1.97), (16.35, 0.17), (16.39, -1.36), (16.41, -0.57), (16.45, 0.81), (16.48, 2.9), (16.51, 1.57),
    (16.54, -0.25), (16.56, -1.78), (16.6, 0.38), (16.64, -1.1), (16.66, 1.18), (16.72, 0.04), (16.76, -0.75),
    (16.79, 2.45), (16.81, 0.7), (16.85, -1.52), (16.89, -2.78), (16.91, 1.71), (16.95, -2.5), (16.97, -0.35),
    (17.01, 2.62), (17.04, 0.33), (17.07, -2.15), (17.1, -0.94), (17.14, 1.02), (17.16, -2.37), (17.2, -0.09),
    (17.22, 1.87), (17.26, -1.73), (17.29, 0.6), (17.33, -0.57), (17.35, 1.39), (17.38, -1.26), (17.41, 0.17),
    (17.48, 0.92), (17.51, -1.73), (17.53, -0.25), (17.59, -2.58), (17.63, 2.56), (17.66, 0.49), (17.7, -1.04),
    (17.72, 1.76), (17.76, -2.18), (17.78, -0.62), (17.85, 1.23), (17.88, 2.34), (17.91, -2.74), (17.94, 0.07),
    (17.97, -1.41), (18.01, 0.76), (18.03, -2.05), (18.07, -0.41), (18.09, 1.6), (18.13, -2.37), (18.16, 2.21),
    (18.19, 0.33), (18.22, -0.99), (18.26, -2.84), (18.28, 1.02), (18.32, -1.62), (18.34, -0.14), (18.38, 1.87),
    (18.41, -2.15), (18.44, 0.6), (18.47, -1.86), (18.51, -0.62), (18.53, 2.34), (18.57, 1.34), (18.59, -1.36),
    (18.63, 0.17), (18.68, 0.86), (18.72, -2.5), (18.75, -0.3), (18.78, -0.88), (18.82, 2.67), (18.84, 1.44),
    (18.88, 0.49), (18.9, -1.52), (18.97, -0.51), (19.03, 1.02), (19.07, -0.04), (19.09, 2.56), (19.13, -1.62),
    (19.15, 1.81), (19.19, 0.6), (19.22, -2.05), (19.25, -0.94), (19.28, 1.18), (19.34, 0.17), (19.38, -1.31),
    (19.4, 1.55), (19.46, -0.57), (19.5, 2.37), (19.53, -1.81), (19.56, 1.39), (19.59, 2.13), (19.62, 0.76),
    (19.65, -0.99), (19.69, -0.3), (19.75, -1.49), (19.78, 0.97), (19.81, 0.28), (19.84, 1.31), (19.88, -1.31),
    (19.93, -1.75), (19.96, -0.09), (20.02, 0.6), (20.09, -0.51), (20.15, 0.92), (20.21, -2.02), (20.24, 1.84),
    (20.27, -0.83), (20.34, 2.12), (20.37, 0.28), (20.42, -0.2), (20.46, 1.44), (20.5, -1.7), (20.52, 1.23),
    (20.59, 0.55), (20.62, -0.75), (20.65, 1.89), (20.67, -2.44), (20.71, 0.33), (20.75, -0.99), (20.77, -0.02),
    (20.9, 1.66), (20.96, 0.92), (21.02, -0.57), (21.08, 1.05), (21.15, 1.5), (21.21, -0.04), (21.27, -0.3),
    (21.33, -0.35), (21.37, 0.28), (21.42, 1.26), (21.52, 0.88), (21.84, -0.04), (21.81, -0.53), (22.24, -0.75),
    (22.24, -0.21), (22.37, 1.39), (22.37, 1.21), (22.5, 0.34), (22.64, 0.4), (22.68, 0.23), (22.85, -1.06),
]

changning_eq17 = [
    (6.1, 1.4), (6.12, 0.3), (6.15, -0.8), (6.08, -1.5), (6.18, 0.9),
    (6.2, 1.7), (6.25, -0.2), (6.28, 0.6), (6.22, -1.1), (6.3, 2.1),
    (6.35, 0.1), (6.38, -1.6), (6.32, 1.0), (6.4, -0.5), (6.42, 1.5),
    (6.45, 0.7), (6.5, -1.2), (6.52, 1.9), (6.48, -0.1), (6.55, 0.3),
    (6.6, 1.3), (6.62, -0.7), (6.65, 0.5), (6.58, -1.7), (6.68, 1.0),
    (6.7, -0.3), (6.75, 2.1), (6.78, 0.2), (6.72, -1.3), (6.8, 0.8),
    (6.85, 1.6), (6.88, -0.9), (6.82, -0.1), (6.9, 0.5), (6.92, -1.8),
    (6.95, 1.2), (7.0, 0.0), (7.02, -0.6), (6.98, 2.0), (7.05, -1.4),
    (7.1, 0.7), (7.12, 1.5), (7.15, -0.3), (7.08, -1.0), (7.18, 0.3),
    (7.2, 2.2), (7.25, -1.7), (7.28, 0.9), (7.22, -0.5), (7.3, 1.3),
    (7.35, 0.2), (7.38, -1.1), (7.32, 1.8), (7.4, -0.2), (7.42, 0.6),
    (7.45, -0.8), (7.5, 1.1), (7.52, -1.6), (7.48, 0.4), (7.55, 2.3),
    (7.6, -0.4), (7.62, 0.8), (7.65, 1.6), (7.58, -1.2), (7.68, 0.0),
    (7.7, 1.3), (7.75, -0.7), (7.78, 0.5), (7.72, -1.8), (7.8, 2.0),
    (7.85, -0.1), (7.88, 1.0), (7.82, -1.3), (7.9, 0.3), (7.92, 1.7),
    (7.95, -0.6), (8.0, 0.7), (8.02, -1.5), (7.98, 1.4), (8.05, 0.1),
    (8.1, 2.1), (8.12, -0.3), (8.15, -1.0), (8.08, 0.9), (8.18, 1.5),
    (8.2, -0.8), (8.25, 0.4), (8.28, -1.7), (8.22, 1.2), (8.3, 0.0),
    (8.35, 1.9), (8.38, -0.5), (8.32, 0.7), (8.4, -1.2), (8.42, 1.0),
    (8.45, -0.2), (8.5, 1.4), (8.52, -1.4), (8.48, 0.5), (8.55, -0.7),
    (8.6, 0.8), (8.62, 2.2), (8.65, -0.1), (8.58, -1.8), (8.68, 1.2),
    (8.7, 0.3), (8.75, -0.9), (8.78, 1.6), (8.72, -0.4), (8.8, 0.6),
    (8.85, -1.5), (8.88, 1.0), (8.82, 0.1), (8.9, 2.0), (8.92, -0.6),
    (8.95, 1.4), (9.0, -0.2), (9.02, 0.5), (8.98, -1.1), (9.05, 0.9),
    (9.1, 1.8), (9.12, -0.8), (9.15, 0.2), (9.08, -1.6), (9.18, 1.1),
    (9.2, -0.3), (9.25, 0.7), (9.28, 1.5), (9.22, -1.3), (9.3, 0.0),
    (9.35, 2.1), (9.38, -0.6), (9.32, 0.4), (9.4, -1.8), (9.42, 1.2),
    (9.45, 0.6), (9.5, -1.0), (9.52, 1.7), (9.48, -0.2), (9.55, 0.2),
    (9.6, 1.0), (9.62, -0.5), (9.65, -1.5), (9.58, 1.4), (9.68, 0.4),
    (9.7, 2.2), (9.75, -0.1), (9.78, 0.8), (9.72, -1.2), (9.8, -0.7),
    (9.85, 1.3), (9.88, 0.3), (9.82, -1.7), (9.9, 0.9), (9.92, -0.4),
    (9.95, 1.7), (10.0, -0.9), (10.05, 0.2), (9.98, -1.4), (10.1, 0.7),
    (10.2, 1.2), (10.3, -0.3), (10.4, 0.5), (10.25, -1.1), (10.5, 1.6),
    (10.7, 0.9), (10.8, -1.5), (10.65, 0.1), (11.0, -0.2), (11.1, 0.6),
    (11.2, -1.0), (11.5, 1.0), (11.6, -1.3), (11.45, 0.0), (11.8, 1.4),
    (11.9, -0.4), (12.1, 0.8), (12.2, -1.2), (12.4, -0.1), (12.25, 1.2),
    (12.6, 0.7), (12.7, -1.6), (12.65, 1.7), (12.9, -0.3), (11.3, 0.3),
    (5.82, 0.12), (5.82, 0.93), (5.85, 1.06), (5.87, 0.73), (5.9, 0.67), (5.92, -0.33), (5.88, -0.5),
    (5.85, -1.06), (5.95, -1.13), (5.97, -1.3), (6.0, -1.4), (5.95, 1.58), (5.97, 2.22), (6.02, 2.11),
    (6.0, 1.84), (5.95, 0.45), (5.98, 0.33), (5.95, -0.05), (6.02, -0.68), (6.05, 1.22), (6.07, 1.6),
    (6.05, -0.9), (6.0, -0.2), (6.1, 0.6),
    (7.77, 3.06), (7.85, 2.96), (6.84, 2.85), (7.05, 2.8), (7.5, 2.9), (8.35, 2.8), (9.3, 3.06), (9.85, 2.8),
    (7.6, 2.65), (7.35, 2.57), (7.1, 2.57), (8.28, 2.58), (8.75, 2.6), (7.0, 2.5), (6.85, 2.4), (7.9, 2.52),
    (9.32, 2.45), (9.6, 2.42), (9.75, 2.52), (11.05, 2.39), (10.25, 2.39), (12.9, 2.2), (6.3, 2.1), (6.5, 2.0),
    (8.05, 2.2), (8.6, 2.18), (8.9, 2.3), (9.0, 1.8), (9.4, 2.2), (10.05, 1.85), (10.55, 2.0), (6.9, 2.25),
    (7.4, 2.25), (8.15, 2.0),
    (7.3, -2.05), (8.0, -2.12), (9.5, -2.1), (8.2, -1.95), (7.6, -2.0), (6.85, -1.9), (6.75, -1.8), (7.4, -1.95),
    (8.68, -1.95), (9.05, -1.95), (9.25, -1.9), (9.65, -1.95), (9.9, -1.9), (11.3, -1.9), (6.5, -1.75),
    (6.25, -1.62), (6.15, -1.45), (8.4, -1.85), (9.75, -1.75), (10.4, -1.7), (12.2, -1.75),
    (19.62, 0.08), (18.75, -0.49), (18.5, -1.22), (18.2, -0.95), (18.3, 0.88), (18.04, 0.76), (17.85, 0.15),
    (18.0, -0.15), (17.8, -0.75), (17.46, -1.54), (17.4, -0.9), (17.34, 0.18), (17.34, 0.57), (17.27, 0.68),
    (16.96, 0.86), (16.96, 0.08), (16.88, -1.22), (16.7, -1.04), (16.57, 0.88), (16.57, -1.42), (16.32, 0.19),
    (16.27, 0.57), (16.2, 1.49), (16.06, -1.66), (16.01, 0.41), (15.56, 1.11), (15.69, -0.03), (15.43, 0.01),
    (15.3, -1.0), (15.18, -1.16), (15.05, 0.95), (14.67, -0.03), (14.85, 0.44), (14.41, -1.37), (14.41, 0.57),
    (14.34, -2.18), (14.29, -1.76), (14.41, -0.55), (14.41, 0.28), (14.09, 1.87), (14.29, 1.76), (14.11, 1.29),
    (13.98, 1.0), (14.04, 0.75), (14.34, 1.02), (13.91, 0.44), (13.98, -0.41), (13.83, -1.04), (13.66, -1.2),
    (13.58, 0.01), (13.4, -1.55), (13.27, 1.71), (13.22, 0.21), (12.97, -2.0), (12.9, 2.2), (12.72, 1.22),
    (6.15, 0.45), (6.35, -0.9), (6.55, 1.0), (6.75, -0.5), (6.95, 0.5), (7.15, -1.2), (7.35, 0.9), (7.55, -0.3),
    (7.75, 1.1), (7.95, -1.0), (8.15, 0.3), (8.35, -0.6), (8.55, 1.1), (8.75, -1.3), (8.95, 0.2), (9.15, -0.5),
    (9.35, 1.0), (9.55, -0.7), (9.75, 0.5), (9.95, -0.2), (6.25, -0.5), (6.45, 0.3), (6.65, -1.0), (6.85, 1.1),
    (7.05, 0.3), (7.25, -0.1), (7.45, -1.4), (7.65, 0.4), (7.85, 0.7), (8.05, -0.4), (8.25, 0.9), (8.45, -1.0),
    (8.65, 0.4), (8.85, -0.2), (9.05, 1.2), (9.25, -1.0), (9.45, 0.2), (9.65, 0.7), (9.85, -1.1), (10.15, 0.4),
]

# ---------------- layout / styling ----------------
BLUE = "#0080ff"
GRID = "#e6e6e6"
SERIF = ["Liberation Serif", "DejaVu Serif"]


def fwd(x):
    x = np.asarray(x, dtype=float)
    return np.where(x <= 10, x, 10 + (x - 10) / 5.0)


def inv(p):
    p = np.asarray(p, dtype=float)
    return np.where(p <= 10, p, 10 + (p - 10) * 5.0)


panels = [
    dict(pts=four_sites_eq8, title="Four sites (Equation 8)", pos=[0.0572, 0.7097, 0.434, 0.2834],
         xlim=(3.30, 26.82), ylim=(-4.72, 4.28), xt=[5, 10, 15, 20, 25], yt=[-4, -2, 0, 2, 4],
         vg=[9.2, 21.0], hg=[2.03, -0.21, -2.47]),
    dict(pts=four_sites_eq16, title="Four sites (Equation 16)", pos=[0.5533, 0.7097, 0.4347, 0.2834],
         xlim=(3.57, 27.25), ylim=(-4.03, 4.79), xt=[5, 10, 15, 20, 25], yt=[-4, -2, 0, 2, 4],
         vg=[9.5, 15.1, 21.3], hg=[2.59, 0.40, -1.82]),
    dict(pts=mengla_eq17, title="Mengla (Equation 17)", pos=[0.0572, 0.377, 0.434, 0.2844],
         xlim=(6.99, 26.54), ylim=(-4.28, 3.87), xt=[10, 15, 20, 25], yt=[-4, -2, 0, 2],
         vg=[11.87, 16.79, 21.61], hg=[1.84, -0.19, -2.25]),
    dict(pts=pingxiang_eq17, title="Pingxiang (Equation 17)", pos=[0.5533, 0.377, 0.4347, 0.2844],
         xlim=(3.41, 24.77), ylim=(-3.14, 4.21), xt=[5, 10, 15, 20], yt=[-2, 0, 2, 4],
         vg=[8.75, 14.09, 19.42], hg=[2.38, 0.54, -1.31]),
    dict(pts=huaan_eq17, title="Hua'an (Equation 17)", pos=[0.0572, 0.0413, 0.434, 0.2854],
         xlim=(6.87, 23.89), ylim=(-3.26, 3.71), xt=[10, 15, 20], yt=[-3, -2, -1, 0, 1, 2, 3],
         vg=[11.12, 15.42, 19.63], hg=[1.97, 0.23, -1.53]),
    dict(pts=changning_eq17, title="Changning (Equation 17)", pos=[0.5533, 0.0413, 0.4347, 0.2854],
         xlim=(5.41, 21.75), ylim=(-2.54, 3.42), xt=[6, 7, 8, 9, 10, 15, 20], yt=[-2, -1, 0, 1, 2, 3],
         vg=[7.15, 8.88, 13.0], hg=[1.94, 0.45, -1.05], split=True),
]

fig = plt.figure(figsize=(14.17, 20.08), dpi=100)

for cfg in panels:
    ax = fig.add_axes(cfg["pos"])
    if cfg.get("split"):
        ax.set_xscale("function", functions=(fwd, inv))
    for v in cfg["vg"]:
        ax.axvline(v, color=GRID, lw=1.0, zorder=0)
    for h in cfg["hg"]:
        ax.axhline(h, color=GRID, lw=1.0, zorder=0)
    df = pd.DataFrame(cfg["pts"], columns=["fitted", "resid"])
    sns.scatterplot(data=df, x="fitted", y="resid", ax=ax, s=52, marker="o",
                    color=BLUE, facecolors="none", edgecolor=BLUE, linewidth=1.3,
                    legend=False, zorder=2)
    ax.axhline(0, color="black", lw=1.2, zorder=3)
    ax.set_xlim(*cfg["xlim"])
    ax.set_ylim(*cfg["ylim"])
    ax.set_xticks(cfg["xt"])
    ax.set_xticklabels([str(t) for t in cfg["xt"]])
    ax.set_yticks(cfg["yt"])
    ax.set_yticklabels([str(t) for t in cfg["yt"]])
    ax.minorticks_off()
    ax.set_xlabel("")
    ax.set_ylabel("")
    ax.tick_params(axis="both", which="both", direction="out", length=8, width=1.0,
                   color="black", labelsize=14, labelcolor="#333333", pad=9,
                   top=True, right=True, bottom=True, left=True,
                   labeltop=False, labelright=False)
    for sp in ax.spines.values():
        sp.set_linewidth(1.3)
        sp.set_color("black")
        sp.set_zorder(4)
    ax.text(0.997, 0.996, cfg["title"], transform=ax.transAxes, ha="right", va="top",
            fontsize=24.5, fontweight="bold", family=SERIF, zorder=5)

for yc in (0.8516, 0.5194, 0.1842):
    fig.text(0.0148, yc, "Standardized residuals", rotation=90, ha="center", va="center",
             fontsize=18, family=SERIF)
for xc in (0.2738, 0.7706):
    fig.text(xc, 0.0095, "Fitted values", ha="center", va="center", fontsize=18, family=SERIF)

fig.savefig("out.png", dpi=100)
